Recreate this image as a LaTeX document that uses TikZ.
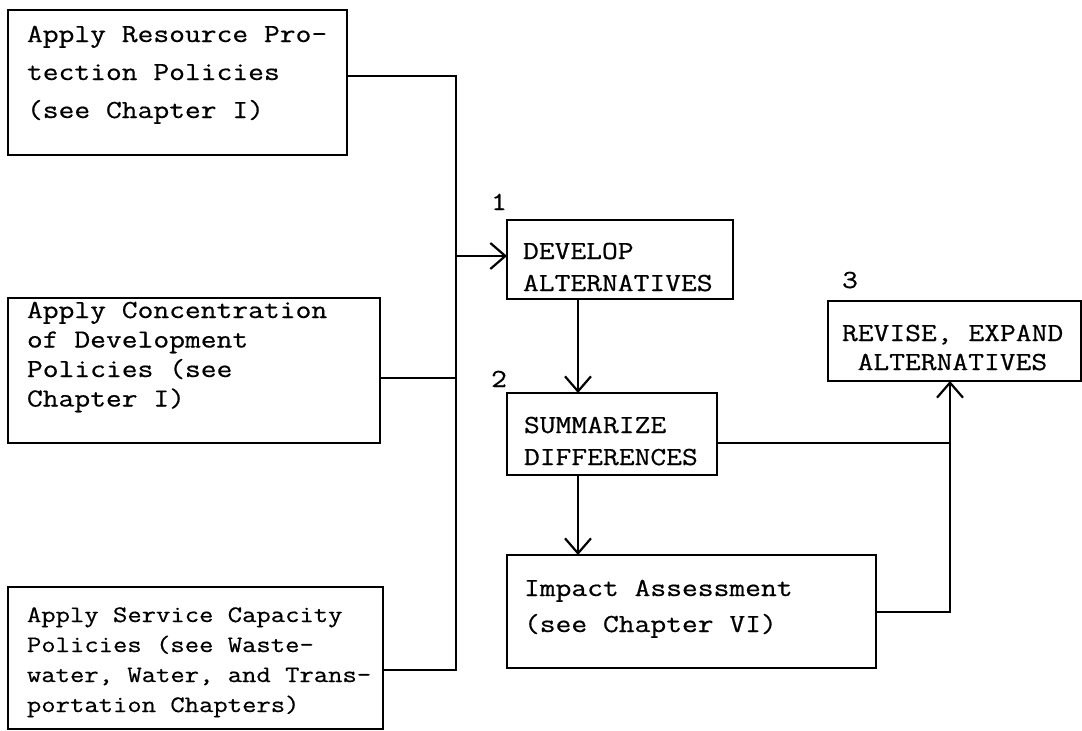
\documentclass[tikz,border=0pt]{standalone}
\usepackage{fontspec}
\setmonofont[FakeStretch=1.18,FakeBold=0.6]{Latin Modern Mono}
\usetikzlibrary{arrows.meta,calc}

% multi-line card text (size, line skip, lines), first line on the node baseline
\newcommand\cardtext[3]{\parbox[t]{520pt}{\ttfamily\fontsize{#1}{#2}\selectfont\raggedright #3}}

\begin{document}
\begin{tikzpicture}[x=1pt,y=-1pt,
  box/.style={draw, line width=2pt, anchor=north west, inner sep=0, outer sep=0},
  txt/.style={anchor=base west, inner sep=0, outer sep=0},
  num/.style={anchor=base, inner sep=0, font=\ttfamily\fontsize{26}{30}\selectfont},
  wire/.style={line width=1.5pt},
  flow/.style={wire, -{Straight Barb[length=15pt,width=26pt,line width=2.2pt]}}
]
\fill[white] (0,0) rectangle (1082,731);
\useasboundingbox (0,0) rectangle (1082,731);

% policy boxes on the left
\node[box, minimum width=339pt, minimum height=145pt] (A) at (8,10) {};
\node[box, minimum width=372pt, minimum height=145pt] (B) at (8,298) {};
\node[box, minimum width=375pt, minimum height=142pt] (C) at (8,587) {};

% process boxes
\node[box, minimum width=226pt, minimum height=79pt] (D) at (507,220) {};
\node[box, minimum width=210pt, minimum height=82pt] (S) at (507,393) {};
\node[box, minimum width=369pt, minimum height=113pt] (I) at (507,555) {};
\node[box, minimum width=253pt, minimum height=80pt] (R) at (828,301) {};

% box texts
\node[txt] (At) at ($(A.north west)+(19,32)$)
  {\cardtext{26pt}{38pt}{Apply Resource Pro-\\tection Policies\\(see Chapter I)}};
\node[txt] (Bt) at ($(B.north west)+(19,20)$)
  {\cardtext{26pt}{29.5pt}{Apply Concentration\\of Development\\Policies (see\\Chapter I)}};
\node[txt] (Ct) at ($(C.north west)+(19,35)$)
  {\cardtext{23.6pt}{30pt}{Apply Service Capacity\\Policies (see Waste-\\water, Water, and Trans-\\portation Chapters)}};
\node[txt] (Dt) at ($(D.north west)+(16,39)$)
  {\cardtext{26pt}{32pt}{DEVELOP\\ALTERNATIVES}};
\node[txt] (St) at ($(S.north west)+(17,40)$)
  {\cardtext{26pt}{32pt}{SUMMARIZE\\DIFFERENCES}};
\node[txt] (It) at ($(I.north west)+(17,41)$)
  {\cardtext{26pt}{36pt}{Impact Assessment\\(see Chapter VI)}};
\node[txt] (Rt) at ($(R.north west)+(14,40)$)
  {\cardtext{26pt}{29pt}{REVISE, EXPAND\\\hspace*{0.6em}ALTERNATIVES}};

% step numbers
\node[num] (n1) at (499,210) {1};
\node[num] (n2) at (499,387) {2};
\node[num] (n3) at (850,288) {3};

% collecting bus on the left
\coordinate (busTop) at (456,76);
\coordinate (busD)   at (456,256);
\coordinate (busB)   at (456,378);
\coordinate (busBot) at (456,670);
\draw[wire] (A.east |- busTop) -- (busTop) -- (busBot) -- (C.east |- busBot);
\draw[wire] (B.east |- busB) -- (busB);
\draw[flow] (busD) -- (D.west |- busD);

% main column
\coordinate (col) at (578,0);
\draw[flow] (D.south -| col) -- (S.north -| col);
\draw[flow] (S.south -| col) -- (I.north -| col);

% feedback to revision
\coordinate (fbS) at (950,443);
\coordinate (fbI) at (950,612);
\draw[wire] (S.east |- fbS) -- (fbS);
\draw[flow] (I.east |- fbI) -- (fbI) -- (R.south -| fbI);
\end{tikzpicture}
\end{document}
